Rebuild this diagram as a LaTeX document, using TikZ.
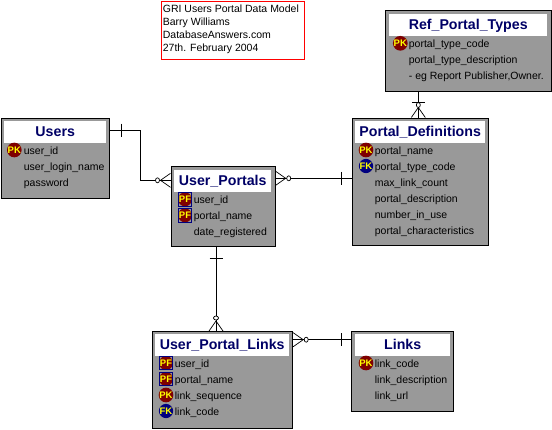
\documentclass[tikz,border=0pt]{standalone}
\usepackage{fontspec}
\setmainfont{Liberation Sans}
\usetikzlibrary{calc}
\definecolor{tablegray}{HTML}{999999}
\definecolor{titlenavy}{HTML}{000066}
\definecolor{keyred}{HTML}{7F0000}
\definecolor{keyblue}{HTML}{000080}
\definecolor{keyyellow}{HTML}{FFFF00}
\tikzset{
	tablebox/.style={draw=black, line width=1.2pt, fill=tablegray, inner sep=0, anchor=north west},
	titlebox/.style={fill=white, inner sep=0, anchor=north west, text=titlenavy,
		font=\fontsize{14.2}{16}\selectfont\bfseries, text height=11, text depth=3},
	colname/.style={inner sep=0, anchor=west, text=black,
		font=\fontsize{10.5}{13}\selectfont, text height=10.5, text depth=2},
	keybase/.style={inner sep=0, text=keyyellow, font=\fontsize{9.5}{10}\selectfont\bfseries},
	pkkey/.style={keybase, circle, fill=keyred, minimum size=14},
	fkkey/.style={keybase, circle, fill=keyblue, minimum size=14},
	pfkey/.style={keybase, rectangle, draw=keyblue, line width=0.8pt, fill=tablegray, minimum size=13.5,
		path picture={\fill[keyred] (path picture bounding box.center) circle (7);}},
	noteline/.style={draw=red, line width=1pt, fill=white, inner sep=0, anchor=north west, text=black},
	relline/.style={draw=black, line width=1pt},
	onebar/.pic={\draw[line width=0.9pt] (0,-6.5) -- (0,6.5);},
	manyopt/.pic={
		\draw[line width=0.7pt] (0,-7) -- (10,0) -- (0,7);
		\draw[line width=0.7pt, fill=white] (13,0) ellipse (2 and 2.5);
	},
	manybar/.pic={
		\draw[line width=0.7pt] (0,-7) -- (10,0) -- (0,7);
		\draw[line width=0.7pt, fill=white] (12.5,0) ellipse (2.5 and 2);
		\draw[line width=0.9pt] (15,-6.5) -- (15,6.5);
	}
}

\begin{document}
\begin{tikzpicture}[x=1pt, y=-1pt]
	\useasboundingbox (0,0) rectangle (552,429);

	% note
	\node[noteline, minimum width=143, minimum height=58.5] (note) at (160.5,0.5) {};
	\node[colname] (noteA) at (162.7,8) {GRI Users Portal Data Model};
	\node[colname] (noteB) at (162.7,21) {Barry Williams};
	\node[colname] (noteC) at (162.7,34) {DatabaseAnswers.com};
	\node[colname] (noteD) at (162.7,47) {27th. February 2004};

	% tables
	\node[tablebox, minimum width=108, minimum height=80.5] (users) at (1,117.5) {};
	\node[titlebox, minimum width=102, minimum height=22] (usersT) at (4,121) {Users};
	\node[pkkey] (usersK) at (14.3,150) {PK};
	\node[colname] (usersA) at (23.7,150) {user\_id};
	\node[colname] (usersB) at (23.7,166) {user\_login\_name};
	\node[colname] (usersC) at (23.7,182) {password};

	\node[tablebox, minimum width=104, minimum height=80] (portals) at (170.5,166) {};
	\node[titlebox, minimum width=97, minimum height=22] (portalsT) at (174,170) {User\_Portals};
	\node[pfkey] (portalsK) at (185,199.3) {PF};
	\node[colname] (portalsA) at (193.7,199.3) {user\_id};
	\node[pfkey] (portalsL) at (185,215.3) {PF};
	\node[colname] (portalsB) at (193.7,215.3) {portal\_name};
	\node[colname] (portalsC) at (193.7,231) {date\_registered};

	\node[tablebox, minimum width=165.5, minimum height=81] (types) at (385.2,10) {};
	\node[titlebox, minimum width=158, minimum height=22] (typesT) at (389,14) {Ref\_Portal\_Types};
	\node[pkkey] (typesK) at (400.3,43.3) {PK};
	\node[colname] (typesA) at (408.7,43.3) {portal\_type\_code};
	\node[colname] (typesB) at (408.7,59) {portal\_type\_description};
	\node[colname] (typesC) at (408.7,75) {- eg Report Publisher,Owner.};

	\node[tablebox, minimum width=136, minimum height=127.5] (defs) at (352,117.5) {};
	\node[titlebox, minimum width=130, minimum height=22] (defsT) at (355,121) {Portal\_Definitions};
	\node[pkkey] (defsK) at (366,150) {PK};
	\node[colname] (defsA) at (374.7,150) {portal\_name};
	\node[fkkey] (defsL) at (366,166) {FK};
	\node[colname] (defsB) at (374.7,166) {portal\_type\_code};
	\node[colname] (defsC) at (374.7,182) {max\_link\_count};
	\node[colname] (defsD) at (374.7,198) {portal\_description};
	\node[colname] (defsE) at (374.7,214) {number\_in\_use};
	\node[colname] (defsF) at (374.7,230) {portal\_characteristics};

	\node[tablebox, minimum width=140, minimum height=96.5] (plinks) at (152,331) {};
	\node[titlebox, minimum width=134, minimum height=22] (plinksT) at (155,334) {User\_Portal\_Links};
	\node[pfkey] (plinksK) at (166,363) {PF};
	\node[colname] (plinksA) at (174.7,363) {user\_id};
	\node[pfkey] (plinksL) at (166,379) {PF};
	\node[colname] (plinksB) at (174.7,379) {portal\_name};
	\node[pkkey] (plinksM) at (166,395) {PK};
	\node[colname] (plinksC) at (174.7,395) {link\_sequence};
	\node[fkkey] (plinksN) at (166,411) {FK};
	\node[colname] (plinksD) at (174.7,411) {link\_code};

	\node[tablebox, minimum width=102, minimum height=80] (links) at (351.2,331) {};
	\node[titlebox, minimum width=95, minimum height=22] (linksT) at (355,334) {Links};
	\node[pkkey] (linksK) at (366,363) {PK};
	\node[colname] (linksA) at (374.7,363) {link\_code};
	\node[colname] (linksB) at (374.7,379) {link\_description};
	\node[colname] (linksC) at (374.7,395) {link\_url};

	% relations
	\coordinate (usersOut) at ($(users.north east)+(0,12.5)$);
	\coordinate (usersIn) at ($(portals.north west)+(0,14.3)$);
	\coordinate (usersBend) at (140,0);
	\draw[relline] (usersOut) -- (usersOut -| usersBend) |- (usersIn);
	\pic at ($(usersOut)+(11,0)$) {onebar};
	\pic[rotate=180] at (usersIn) {manyopt};

	\coordinate (defsOut) at ($(defs.north west)+(0,60.8)$);
	\coordinate (defsIn) at (portals.east |- defsOut);
	\draw[relline] (defsOut) -- (defsIn);
	\pic at ($(defsOut)+(-10.5,0)$) {onebar};
	\pic at (defsIn) {manyopt};

	\coordinate (typesOut) at (418.3,91);
	\coordinate (typesIn) at (typesOut |- defs.north);
	\draw[relline] (typesOut) -- (typesIn);
	\pic[rotate=90] at (typesIn) {manybar};

	\coordinate (plinksX) at (216,0);
	\coordinate (plinksOut) at (plinksX |- portals.south);
	\coordinate (plinksIn) at (plinksX |- plinks.north);
	\draw[relline] (plinksOut) -- (plinksIn);
	\pic[rotate=90] at ($(plinksOut)+(0,11)$) {onebar};
	\pic[rotate=90] at (plinksIn) {manyopt};

	\coordinate (linksOut) at ($(links.north west)+(0,8.7)$);
	\coordinate (linksIn) at (plinks.east |- linksOut);
	\draw[relline] (linksOut) -- (linksIn);
	\pic at ($(linksOut)+(-10,0)$) {onebar};
	\pic at (linksIn) {manyopt};
\end{tikzpicture}
\end{document}
